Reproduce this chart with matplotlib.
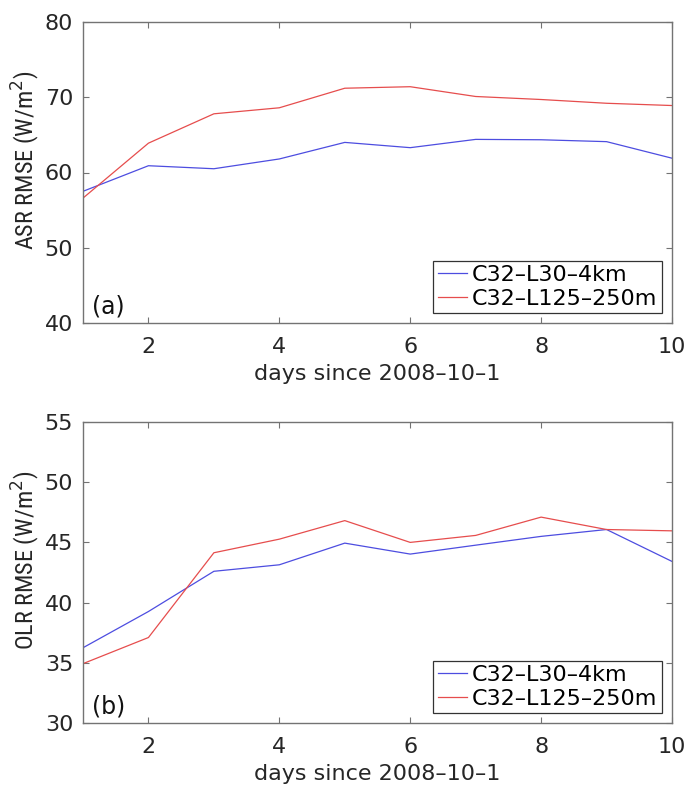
import matplotlib
matplotlib.use("Agg")
import matplotlib.pyplot as plt
from matplotlib import font_manager

days = [1, 2, 3, 4, 5, 6, 7, 8, 9, 10]

# ASR RMSE (W/m^2)
asr_4km = [57.5, 60.9, 60.5, 61.8, 64.0, 63.3, 64.4, 64.35, 64.1, 61.9]
asr_250m = [56.6, 63.9, 67.8, 68.6, 71.2, 71.4, 70.1, 69.7, 69.2, 68.9]

# OLR RMSE (W/m^2)
olr_4km = [36.25, 39.26, 42.6, 43.14, 44.94, 44.03, 44.77, 45.5, 46.07, 43.42]
olr_250m = [34.93, 37.1, 44.14, 45.27, 46.81, 45.0, 45.58, 47.1, 46.07, 45.96]

labels = ["C32\u2013L30\u20134km", "C32\u2013L125\u2013250m"]
xlabel = "days since 2008\u201310\u20131"
xticks = [2, 4, 6, 8, 10]

BLUE = (0.3, 0.3, 0.88)
RED = (0.9, 0.3, 0.3)
EDGE = (0.45, 0.45, 0.45)
TXT = "#262626"

plt.rcParams["font.family"] = ["DejaVu Sans"]

# narrow face for the y labels, if one is around
names = {f.name for f in font_manager.fontManager.ttflist}
narrow = None
for cand in ["Liberation Sans Narrow", "DejaVu Sans Condensed", "Roboto Condensed", "Open Sans Condensed"]:
    if cand in names:
        narrow = cand
        break
if narrow:
    ylab_font = dict(family=[narrow, "DejaVu Sans"], fontsize=17.5)
else:
    ylab_font = dict(family=["DejaVu Sans"], fontstretch="condensed", fontsize=15)

fig = plt.figure(figsize=(6.86, 7.85), dpi=100)
W, H = 686, 785

def make_ax(top_px, bottom_px):
    left, right = 83, 672
    return fig.add_axes([left / W, 1 - bottom_px / H, (right - left) / W, (bottom_px - top_px) / H])

panels = [
    (make_ax(22, 323), asr_4km, asr_250m, (40, 80), [40, 50, 60, 70, 80], "ASR RMSE (W/m$^2$)", "(a)"),
    (make_ax(422, 723), olr_4km, olr_250m, (30, 55), [30, 35, 40, 45, 50, 55], "OLR RMSE (W/m$^2$)", "(b)"),
]

for ax, s1, s2, ylim, yticks, ylabel, tag in panels:
    ax.plot(days, s1, color=BLUE, lw=0.9, label=labels[0])
    ax.plot(days, s2, color=RED, lw=0.9, label=labels[1])
    ax.set_xlim(1, 10)
    ax.set_ylim(*ylim)
    ax.set_xticks(xticks)
    ax.set_yticks(yticks)
    ax.tick_params(direction="in", top=True, right=True, length=4, width=0.8,
                   color=EDGE, labelsize=16, labelcolor=TXT)
    ax.tick_params(axis="x", pad=10)
    ax.tick_params(axis="y", pad=7)
    for sp in ax.spines.values():
        sp.set_color(EDGE)
        sp.set_linewidth(1.0)
    ax.set_ylabel(ylabel, color=TXT, labelpad=2, **ylab_font)
    ax.yaxis.label.set_y(0.54)
    ax.set_xlabel(xlabel, fontsize=16, color=TXT, labelpad=5)
    ax.text(0.015, 0.03, tag, transform=ax.transAxes, fontsize=17, color="#111111")
    leg = ax.legend(loc="lower right", fontsize=16, handlelength=1.3, handletextpad=0.25,
                    borderpad=0.2, labelspacing=0.15, borderaxespad=0.45,
                    fancybox=False, framealpha=1)
    leg.get_frame().set_edgecolor("#333333")
    leg.get_frame().set_linewidth(0.9)

fig.savefig("out.png", dpi=100)
